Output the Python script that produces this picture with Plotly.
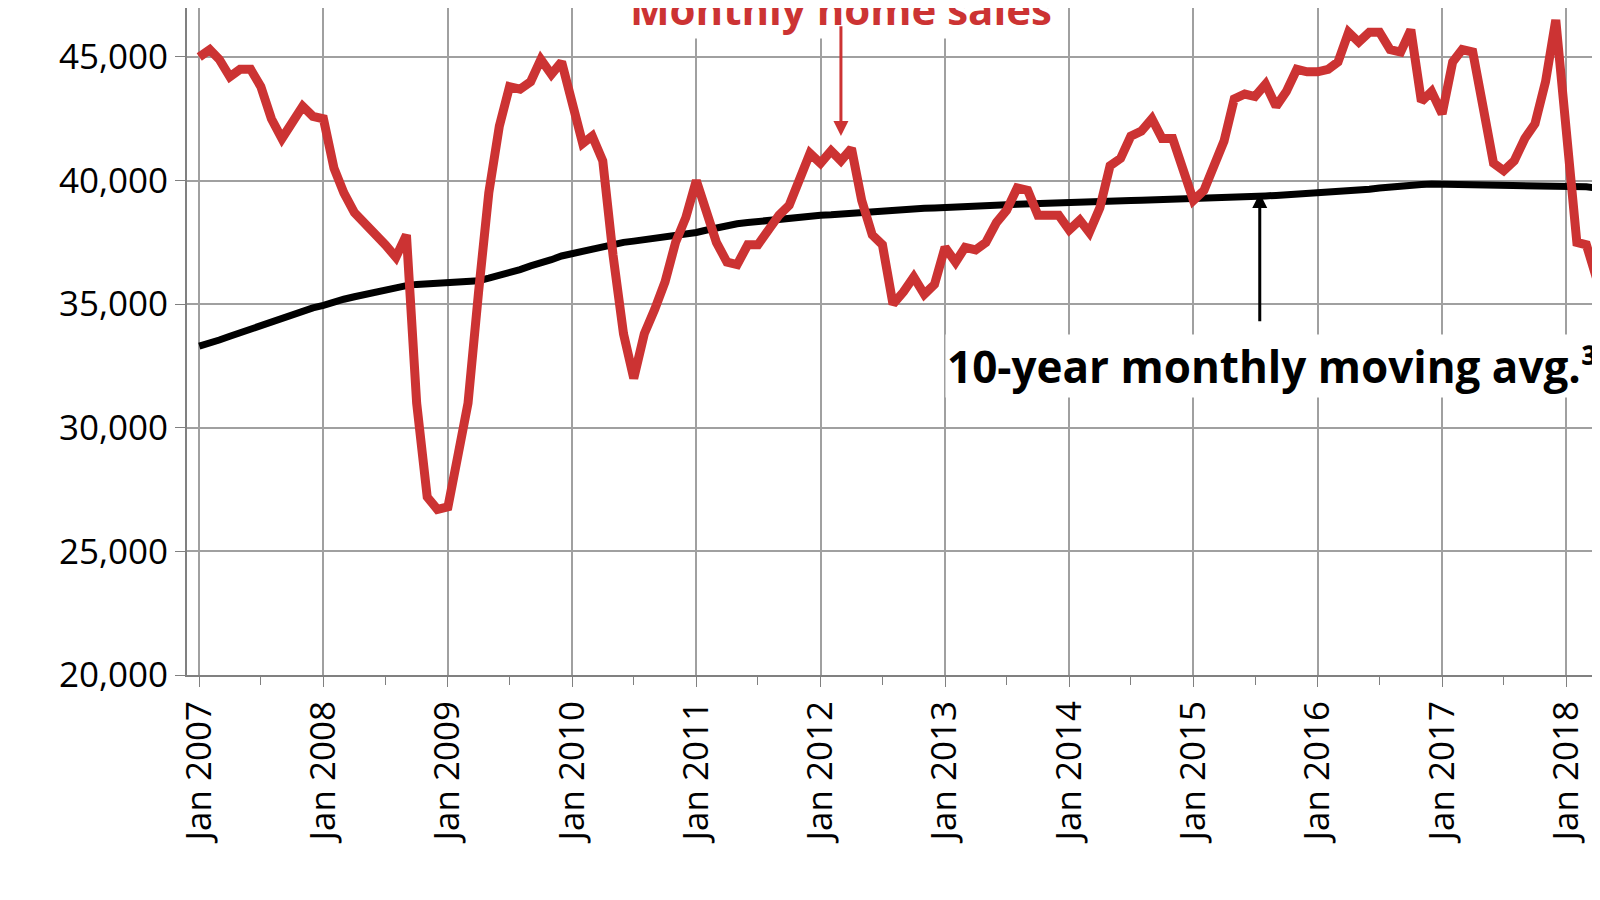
import plotly.graph_objects as go
import pandas as pd

months = pd.date_range("2007-01-01", "2018-04-01", freq="MS")

home_sales = [
45000,45300,44900,44200,44500,44500,43800,42500,41700,42400,43000,42600,
42500,40500,39500,38700,38300,37800,37400,36900,37800,31000,27200,26700,
26800,29000,31000,35500,39500,42200,43800,43700,44000,44900,44300,44800,
43000,41500,41800,40800,37000,33800,32000,33800,34800,35900,37500,38500,
40000,38800,37500,36700,36600,37400,37400,38000,38600,39000,40000,41100,
40700,41200,40800,41300,39200,37800,37400,35000,35500,36100,35400,35800,
37300,36700,37300,37200,37500,38300,38800,39700,39600,38600,38600,38600,
38000,38400,37900,38900,40600,40900,41800,42000,42500,41700,41700,40400,
39200,39600,40600,41600,43300,43500,43400,43900,43000,43600,44500,44400,
44400,44500,44800,46000,45600,46000,46000,45300,45200,46100,43200,43600,
42700,44800,45300,45200,43000,40700,40400,40800,41700,42300,44000,46500,
42000,37500,37400,36000]

moving_avg = [
33300,33400,33550,33700,33850,34000,34150,34300,34450,34600,34750,34850,
34950,35100,35200,35300,35400,35500,35600,35700,35750,35800,35820,35850,
35850,35880,35900,35950,36050,36150,36300,36400,36550,36650,36800,36950,
37050,37150,37250,37350,37450,37500,37550,37600,37650,37700,37800,37850,
37900,38000,38100,38200,38250,38300,38350,38400,38450,38500,38550,38580,
38600,38620,38650,38700,38750,38780,38800,38820,38840,38860,38880,38890,
38900,38920,38950,38970,38990,39000,39020,39040,39060,39070,39080,39090,
39100,39110,39120,39130,39150,39170,39190,39200,39210,39220,39230,39240,
39250,39270,39290,39300,39320,39340,39360,39380,39400,39420,39440,39460,
39480,39500,39530,39560,39600,39650,39700,39750,39780,39810,39840,39860,
39850,39840,39830,39820,39810,39800,39800,39800,39810,39820,39820,39810,
39800,39780,39750,39700]

year_ticks = pd.date_range("2007-01-01", "2018-01-01", freq="YS")
tick_labels = [f"Jan {d.year}" for d in year_ticks]

fig = go.Figure()
fig.add_trace(go.Scatter(x=months, y=moving_avg, mode="lines",
                         line=dict(color="black", width=7), showlegend=False))
fig.add_trace(go.Scatter(x=months, y=home_sales, mode="lines",
                         line=dict(color="#CC3333", width=9), showlegend=False))

fig.update_layout(
    width=1600, height=900,
    margin=dict(l=179, r=8, t=0, b=233),
    plot_bgcolor="white", paper_bgcolor="white",
    font=dict(family="Open Sans", size=35, color="black"),
    xaxis=dict(range=["2006-11-26", "2018-04-10"], tickvals=year_ticks, ticktext=tick_labels,
               tickangle=-90, showgrid=True, gridcolor="#A0A0A0", gridwidth=2,
               showline=True, linecolor="#808080", linewidth=2,
               ticks="outside", ticklen=10, tickcolor="#808080",
               minor=dict(dtick="M6", ticks="outside", ticklen=8, tickcolor="#808080", showgrid=False)),
    yaxis=dict(range=[20000, 46980], tickvals=[20000, 25000, 30000, 35000, 40000, 45000],
               tickformat=",", showgrid=True, gridcolor="#A0A0A0", gridwidth=2,
               showline=True, linecolor="#808080", linewidth=2,
               ticks="outside", ticklen=10, tickcolor="#808080"),
    annotations=[
        dict(text="<b>Monthly home sales</b>", x="2012-03-01", y=1, xref="x", yref="paper",
             yanchor="middle", showarrow=False, font=dict(size=42, color="#CC3333"),
             bgcolor="white"),
        dict(x="2012-03-01", y=41800, ax="2012-03-01", ay=46300, xref="x", yref="y",
             axref="x", ayref="y", text="", showarrow=True, arrowhead=2, arrowsize=1,
             arrowwidth=3, arrowcolor="#CC3333"),
        dict(x="2015-07-15", y=39500, ax="2015-07-15", ay=34250, xref="x", yref="y",
             axref="x", ayref="y", text="", showarrow=True, arrowhead=2, arrowsize=1,
             arrowwidth=3, arrowcolor="black"),
        dict(text="<b>10-year monthly moving avg.³</b>", x="2013-01-01", y=32500, xref="x", yref="y",
             xanchor="left", yanchor="middle", showarrow=False, font=dict(size=44, color="black"),
             bgcolor="white"),
    ],
)
fig.add_shape(type="line", xref="paper", yref="paper", x0=-0.131, x1=-0.131, y0=-0.33, y1=1,
              line=dict(color="black", width=3))
fig.write_html("out.html")
